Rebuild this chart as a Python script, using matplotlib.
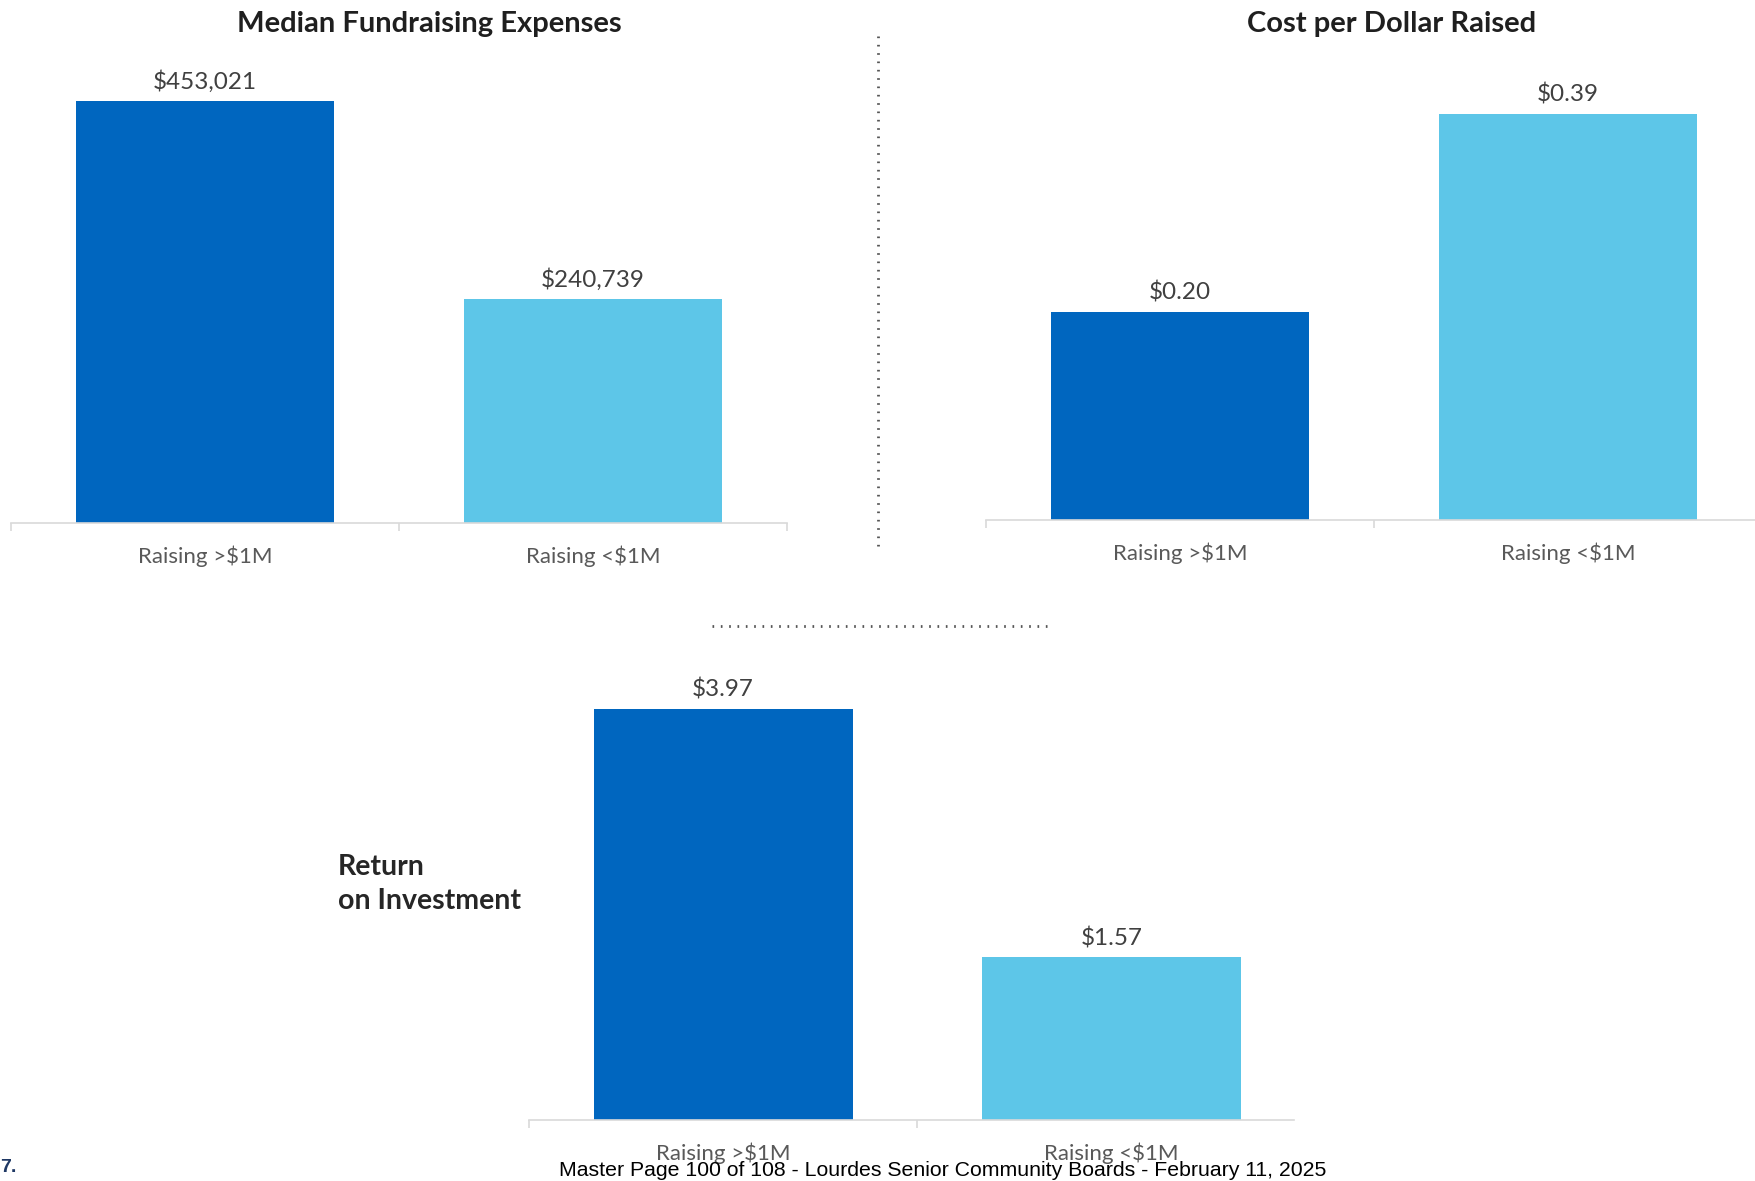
import matplotlib
matplotlib.use("Agg")
import matplotlib.pyplot as plt
from matplotlib.lines import Line2D

plt.rcParams['font.family'] = ['Lato', 'DejaVu Sans']

categories = ["Raising >$1M", "Raising <$1M"]

expense_values = [453021, 240739]
expense_labels = ["$453,021", "$240,739"]

cost_values = [0.20, 0.39]
cost_labels = ["$0.20", "$0.39"]

roi_values = [3.97, 1.57]
roi_labels = ["$3.97", "$1.57"]

footer = "Master Page 100 of 108 - Lourdes Senior Community Boards - February 11, 2025"

DARK = "#0066BF"
LIGHT = "#5DC6E8"
W, H = 1756, 1181

fig = plt.figure(figsize=(W / 100, H / 100), dpi=100)


def px_axes(left, bottom, right, top):
    # pixel box (origin top-left) -> figure fraction
    return fig.add_axes([left / W, 1 - bottom / H, (right - left) / W, (bottom - top) / H])


def bar_panel(ax, values, labels):
    x = range(len(values))
    bars = ax.bar(x, values, width=0.667, color=[DARK, LIGHT], zorder=2)
    ax.set_xlim(-0.5, 1.5)
    ax.set_ylim(0, max(values))
    for b, lab in zip(bars, labels):
        ax.annotate(lab, (b.get_x() + b.get_width() / 2, b.get_height()),
                    xytext=(0, 14), textcoords="offset points",
                    ha="center", va="center", fontsize=17.5, color="#404040",
                    annotation_clip=False)
    for s in ("top", "left", "right"):
        ax.spines[s].set_visible(False)
    ax.spines["bottom"].set_color("#D9D9D9")
    ax.spines["bottom"].set_linewidth(1.2)
    ax.set_yticks([])
    # category separators hang below the baseline
    ax.set_xticks([-0.5, 0.5, 1.5])
    ax.set_xticklabels([])
    ax.tick_params(axis="x", length=6, color="#D9D9D9", width=1.2)
    ax.set_xticks([0, 1], minor=True)
    ax.set_xticklabels(categories, minor=True, fontsize=16, color="#595959")
    ax.tick_params(axis="x", which="minor", length=0, pad=16)
    ax.set_facecolor("none")


ax1 = px_axes(11, 523, 787, 101)
bar_panel(ax1, expense_values, expense_labels)

ax2 = px_axes(986, 520, 1762, 114)
bar_panel(ax2, cost_values, cost_labels)

ax3 = px_axes(529, 1120, 1294, 709)
bar_panel(ax3, roi_values, roi_labels)
ax3.set_xlim(-0.5, 1.47)

fig.text(429 / W, 1 - 24 / H, "Median Fundraising Expenses", ha="center", va="center",
         fontsize=21, fontweight="bold", color="#1F1F1F")
fig.text(1392 / W, 1 - 24 / H, "Cost per Dollar Raised", ha="center", va="center",
         fontsize=21, fontweight="bold", color="#1F1F1F")
fig.text(338 / W, 1 - 884 / H, "Return\non Investment", ha="left", va="center",
         fontsize=20.5, fontweight="bold", color="#262626", linespacing=1.4)

# dotted dividers between panels
fig.add_artist(Line2D([878 / W, 878 / W], [1 - 36 / H, 1 - 547 / H], transform=fig.transFigure,
                      color="#555555", linestyle=(0, (0.6, 2.4)), linewidth=2))
fig.add_artist(Line2D([712 / W, 1048 / W], [1 - 626 / H, 1 - 626 / H], transform=fig.transFigure,
                      color="#555555", linestyle=(0, (0.6, 2.4)), linewidth=2))

fig.text(943 / W, 1 - 1171 / H, footer, ha="center", va="center",
         fontsize=15.3, color="black", family="Liberation Sans")
fig.text(0, 1 - 1168 / H, "7.", ha="left", va="center", fontsize=14,
         fontweight="bold", color="#1F3864", family="Liberation Sans")

fig.savefig("out.png", dpi=100)
